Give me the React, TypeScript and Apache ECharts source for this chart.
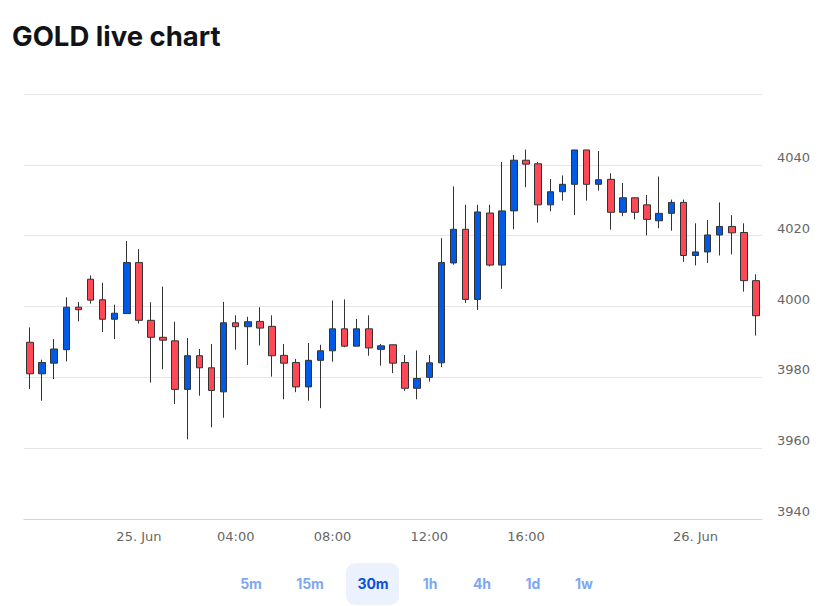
import React, { useEffect, useRef } from "react";
import * as echarts from "echarts";

const categories: string[] = [
  "06-24 19:30", "06-24 20:00", "06-24 20:30", "06-24 21:00", "06-24 21:30", "06-24 22:00", "06-24 22:30", "06-24 23:00", "06-24 23:30",
  "06-25 00:00", "06-25 00:30", "06-25 01:00", "06-25 01:30", "06-25 02:00", "06-25 02:30", "06-25 03:00", "06-25 03:30",
  "06-25 04:00", "06-25 04:30", "06-25 05:00", "06-25 05:30", "06-25 06:00", "06-25 06:30", "06-25 07:00", "06-25 07:30",
  "06-25 08:00", "06-25 08:30", "06-25 09:00", "06-25 09:30", "06-25 10:00", "06-25 10:30", "06-25 11:00", "06-25 11:30",
  "06-25 12:00", "06-25 12:30", "06-25 13:00", "06-25 13:30", "06-25 14:00", "06-25 14:30", "06-25 15:00", "06-25 15:30",
  "06-25 16:00", "06-25 16:30", "06-25 17:00", "06-25 17:30", "06-25 18:00", "06-25 18:30", "06-25 19:00", "06-25 19:30",
  "06-25 20:00", "06-25 20:30", "06-25 21:00", "06-25 21:30", "06-25 23:00", "06-25 23:30",
  "06-26 00:00", "06-26 00:30", "06-26 01:00", "06-26 01:30", "06-26 02:00", "06-26 02:30",
];

const opens: number[] = [
  3989.9, 3981.0, 3984.0, 3987.8, 3999.8, 4007.7, 4001.9, 3996.4, 3998.0, 4012.4,
  3996.1, 3991.3, 3990.3, 3976.6, 3986.1, 3982.7, 3975.9, 3995.4, 3994.3, 3995.8,
  3994.4, 3986.2, 3984.2, 3977.3, 3984.8, 3987.5, 3993.7, 3988.8, 3993.7, 3987.9,
  3989.2, 3984.2, 3976.9, 3980.0, 3984.1, 4012.3, 4021.8, 4002.0, 4026.4, 4011.7,
  4027.0, 4041.3, 4040.3, 4028.7, 4032.4, 4034.5, 4044.2, 4034.5, 4035.9, 4026.6,
  4030.7, 4028.7, 4024.2, 4026.3, 4029.4, 4014.4, 4015.4, 4020.2, 4022.6, 4020.9,
  4007.3,
];

const closes: number[] = [
  3981.0, 3984.2, 3988.0, 3999.8, 3999.1, 4001.8, 3996.4, 3998.1, 4012.4, 3996.1,
  3991.3, 3990.5, 3976.6, 3986.1, 3982.7, 3976.3, 3995.4, 3994.3, 3995.7, 3993.9,
  3986.1, 3984.0, 3977.3, 3984.8, 3987.5, 3993.7, 3988.8, 3993.7, 3988.3, 3988.9,
  3984.0, 3976.9, 3979.7, 3984.1, 4012.4, 4021.8, 4002.0, 4026.7, 4011.7, 4027.0,
  4041.3, 4040.2, 4028.7, 4032.4, 4034.5, 4044.2, 4034.5, 4035.8, 4026.6, 4030.7,
  4026.6, 4024.6, 4026.3, 4029.4, 4014.4, 4015.4, 4020.2, 4022.6, 4020.8, 4007.3,
  3997.4,
];

const lows: number[] = [
  3976.7, 3973.4, 3979.5, 3984.5, 3995.8, 4000.8, 3992.8, 3990.8, 3998.0, 3995.2,
  3978.5, 3982.3, 3972.5, 3962.5, 3974.8, 3965.9, 3968.6, 3987.8, 3983.5, 3989.0,
  3980.2, 3973.8, 3975.8, 3973.4, 3971.3, 3984.4, 3988.5, 3988.8, 3986.1, 3983.3,
  3981.2, 3976.2, 3973.8, 3978.8, 3982.9, 4011.8, 4001.0, 3999.0, 4011.3, 4005.0,
  4021.8, 4033.7, 4023.7, 4026.9, 4029.9, 4025.8, 4029.9, 4032.7, 4021.7, 4025.5,
  4024.6, 4020.1, 4022.1, 4021.4, 4012.6, 4011.6, 4012.3, 4014.4, 4014.7, 4004.2,
  3991.8,
];

const highs: number[] = [
  3994.1, 3985.0, 3990.8, 4002.6, 4001.3, 4008.8, 4006.7, 4000.5, 4018.5, 4016.2,
  4001.2, 4005.6, 3995.7, 3991.1, 3988.0, 3989.4, 4001.3, 3997.5, 3997.1, 3999.8,
  3997.5, 3989.4, 3985.2, 3989.7, 3989.2, 4001.7, 4002.0, 3996.5, 3997.5, 3989.4,
  3989.2, 3986.3, 3987.6, 3986.3, 4019.3, 4033.9, 4028.7, 4028.7, 4028.7, 4040.8,
  4042.8, 4044.3, 4040.8, 4036.0, 4037.0, 4044.2, 4044.2, 4043.9, 4037.6, 4034.9,
  4030.7, 4031.5, 4036.7, 4030.2, 4030.2, 4023.5, 4024.4, 4029.4, 4025.8, 4023.5,
  4009.1,
];

const xTickLabels: string[] = ["25. Jun", "04:00", "08:00", "12:00", "16:00", "26. Jun"];
const yTicks: number[] = [3940, 3960, 3980, 4000, 4020, 4040, 4060];
const intervals: string[] = ["5m", "15m", "30m", "1h", "4h", "1d", "1w"];
const selectedInterval = "30m";

const formatCat = (v: string): string => {
  const [date, time] = v.split(" ");
  if (time === "00:00") {
    const day = date.split("-")[1];
    return `${day}. Jun`;
  }
  return time;
};

const UP = "#005ae6";
const DOWN = "#ff4855";
const EDGE = "#333333";

export default function App() {
  const ref = useRef<HTMLDivElement>(null);
  useEffect(() => {
    if (!ref.current) return;
    const chart = echarts.init(ref.current, null, { renderer: "svg" });
    const data = opens.map((o, i) => [o, closes[i], lows[i], highs[i]]);
    const showIdx = (i: number) => xTickLabels.includes(formatCat(categories[i]));
    const btnX = [251, 310, 373, 430, 482, 533, 584];
    chart.setOption({
      animation: false,
      backgroundColor: "#ffffff",
      title: {
        text: "GOLD live chart",
        left: 12,
        top: 22,
        padding: 0,
        textStyle: {
          fontFamily: "Inter",
          fontWeight: 700,
          fontSize: 27.5,
          color: "#121318",
        },
      },
      grid: { left: 24, right: 71, top: 94, bottom: 87, containLabel: false },
      xAxis: {
        type: "category",
        data: categories,
        boundaryGap: true,
        axisLine: { lineStyle: { color: "#ccd6eb", width: 1 } },
        axisTick: {
          alignWithLabel: true,
          length: 9,
          interval: (i: number) => showIdx(i),
          lineStyle: { color: "#ccd6eb" },
        },
        axisLabel: {
          interval: (i: number) => showIdx(i),
          formatter: (v: string) => formatCat(v),
          color: "#666666",
          fontFamily: "DejaVu Sans",
          fontSize: 13,
          margin: 11,
        },
        splitLine: { show: false },
      },
      yAxis: {
        type: "value",
        position: "right",
        min: yTicks[0],
        max: yTicks[yTicks.length - 1],
        interval: 20,
        axisLine: { show: false },
        axisTick: { show: false },
        axisLabel: {
          formatter: (v: number) => (v === yTicks[yTicks.length - 1] ? "" : String(v)),
          color: "#666666",
          fontFamily: "DejaVu Sans",
          fontSize: 13,
          margin: 15,
          verticalAlign: "bottom",
          lineHeight: 15,
        },
        splitLine: { lineStyle: { color: "#e6e6e6", width: 1 } },
      },
      series: [
        {
          type: "candlestick",
          data,
          barWidth: 7,
          itemStyle: {
            color: UP,
            color0: DOWN,
            borderColor: EDGE,
            borderColor0: EDGE,
            borderWidth: 1,
          },
        },
      ],
      graphic: [
        {
          type: "rect",
          shape: { x: 346, y: 563, width: 53, height: 42, r: 9 },
          style: { fill: "#ebf2fe" },
        },
        ...intervals.map((t, i) => ({
          type: "text",
          x: btnX[i],
          y: 583,
          style: {
            text: t,
            fontFamily: "Inter",
            fontWeight: 700,
            fontSize: 14,
            fill: t === selectedInterval ? "#0b4fd9" : "#7ea8ef",
            align: "center",
            verticalAlign: "middle",
          },
        })),
      ],
    });
    return () => chart.dispose();
  }, []);
  return (
    <div
      ref={ref}
      style={{ position: "fixed", left: 0, top: 0, width: 833, height: 606 }}
    />
  );
}
